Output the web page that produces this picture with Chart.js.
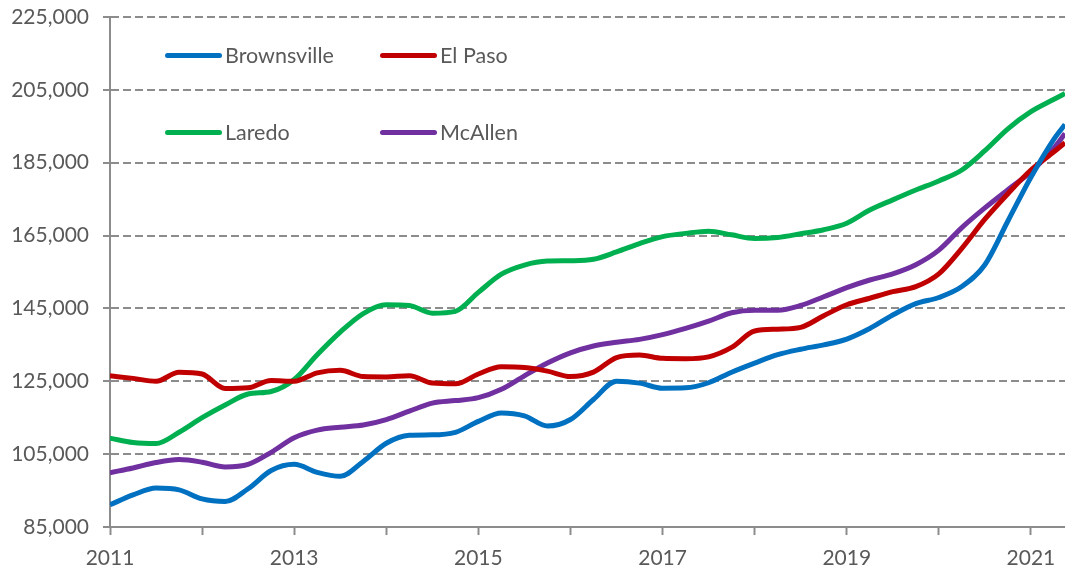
<!DOCTYPE html>
<html>
<head>
<meta charset="utf-8">
<script src="https://cdn.jsdelivr.net/npm/chart.js@4.4.1/dist/chart.umd.min.js"></script>
<style>
html,body{margin:0;padding:0;background:#fff;}
#wrap{position:relative;width:1065px;height:575px;overflow:hidden;}
#c{position:absolute;left:0;top:0;}
.leg{position:absolute;height:30px;line-height:30px;display:flex;align-items:center;font-family:Lato,"Open Sans",sans-serif;font-size:21.5px;color:#595959;white-space:nowrap;}
.leg .sw{display:inline-block;width:57px;height:5px;border-radius:3px;margin-right:3px;}
</style>
</head>
<body>
<div id="wrap">
<canvas id="c" width="1065" height="575"></canvas>
</div>
<script>
// ---- data ----
const years = [2011.00,2011.25,2011.50,2011.75,2012.00,2012.25,2012.50,2012.75,
  2013.00,2013.25,2013.50,2013.75,2014.00,2014.25,2014.50,2014.75,
  2015.00,2015.25,2015.50,2015.75,2016.00,2016.25,2016.50,2016.75,
  2017.00,2017.25,2017.50,2017.75,2018.00,2018.25,2018.50,2018.75,
  2019.00,2019.25,2019.50,2019.75,2020.00,2020.25,2020.50,2020.75,
  2021.00,2021.25,2021.37];

const seriesNames = ["Brownsville","El Paso","Laredo","McAllen"];
const seriesColors = ["#0070C0","#C00000","#00B050","#7030A0"];

const brownsville = [91100,93800,95700,95200,92700,92000,95500,100500,
  102200,100000,98900,103000,108000,110200,110300,111000,
  114000,116300,115500,112700,114500,120000,125000,124500,
  123100,123200,124600,127500,130000,132300,133800,135000,
  136600,139500,143200,146300,148000,151000,157000,169000,
  181000,191500,195500];

const elPaso = [126500,125800,125000,127500,127000,123000,123200,125200,
  125000,127300,128000,126300,126200,126500,124500,124300,
  127000,129000,128800,127800,126300,127500,131500,132200,
  131300,131200,131700,134300,138800,139300,139800,143000,
  146000,147800,149600,151000,154500,161500,169500,176500,
  183000,188000,190500];

const laredo = [109400,108200,107900,111000,115000,118500,121500,122200,
  125500,132300,138500,143600,146000,145800,143700,144200,
  149400,154400,156900,158000,158100,158500,160500,162800,
  164700,165600,166200,165200,164200,164500,165500,166600,
  168400,172000,174800,177500,180000,183000,188300,194300,
  199000,202400,204000];

const mcAllen = [99900,101200,102700,103500,102800,101500,102200,105500,
  109500,111600,112400,113000,114500,116800,119000,119700,
  120500,122800,126500,130000,132800,134700,135700,136500,
  137800,139500,141500,143800,144500,144500,145800,148200,
  150700,152800,154500,157000,161000,167200,172600,177600,
  182500,189000,193000];

const yMin = 85000, yMax = 225000, yStep = 20000;
const xMin = 2011, xMax = 2021.37;

// ---- chart ----
const allSeries = [brownsville, elPaso, laredo, mcAllen];
const datasets = allSeries.map((arr, k) => ({
  label: seriesNames[k],
  data: years.map((x, i) => ({x: x, y: arr[i]})),
  borderColor: seriesColors[k],
  backgroundColor: seriesColors[k],
  borderWidth: 5,
  pointRadius: 0,
  cubicInterpolationMode: 'monotone',
  fill: false
}));

const gridGray = '#8c8c8c';
Chart.defaults.font.family = 'Lato, "Open Sans", sans-serif';
Chart.defaults.font.size = 21;
Chart.defaults.color = '#595959';

new Chart(document.getElementById('c'), {
  type: 'line',
  data: {datasets: datasets},
  options: {
    responsive: false,
    animation: false,
    devicePixelRatio: 1,
    layout: {padding: {top: 17, right: 0, left: 0, bottom: 0}},
    plugins: {legend: {display: false}, tooltip: {enabled: false}},
    scales: {
      x: {
        type: 'linear',
        min: xMin, max: xMax,
        afterFit: s => { s.height = 48; s.paddingLeft = 0; s.paddingRight = 0; },
        ticks: {
          stepSize: 1, includeBounds: false, autoSkip: false, maxRotation: 0,
          padding: 11,
          callback: v => (Math.round(v) - 2011) % 2 === 0 ? String(Math.round(v)) : ''
        },
        grid: {drawOnChartArea: false, drawTicks: true, tickLength: 8, tickColor: gridGray, tickWidth: 2, color: gridGray},
        border: {display: true, color: gridGray, width: 2}
      },
      y: {
        min: yMin, max: yMax,
        afterFit: s => { s.width = 110; s.paddingTop = 0; s.paddingBottom = 0; },
        ticks: {
          stepSize: yStep, padding: 14,
          callback: v => v.toLocaleString('en-US')
        },
        grid: {color: gridGray, lineWidth: 2, tickLength: 7, tickColor: gridGray, tickWidth: 2, tickBorderDash: []},
        border: {display: true, color: gridGray, width: 2, dash: [8, 4]}
      }
    }
  }
});

// ---- legend (HTML) ----
const legPos = [[165, 40], [380, 40], [165, 117], [380, 117]];
const wrap = document.getElementById('wrap');
seriesNames.forEach((n, k) => {
  const d = document.createElement('div');
  d.className = 'leg';
  d.style.left = legPos[k][0] + 'px';
  d.style.top = legPos[k][1] + 'px';
  const sw = document.createElement('span');
  sw.className = 'sw';
  sw.style.background = seriesColors[k];
  const t = document.createElement('span');
  t.textContent = n;
  d.appendChild(sw); d.appendChild(t);
  wrap.appendChild(d);
});
</script>
</body>
</html>
